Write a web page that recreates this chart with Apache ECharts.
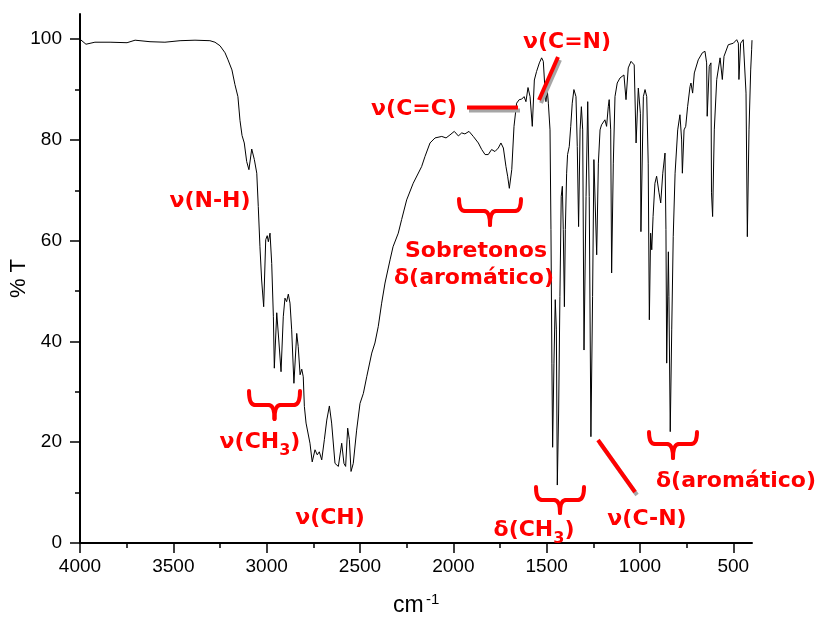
<!DOCTYPE html>
<html><head><meta charset="utf-8">
<script src="https://cdn.jsdelivr.net/npm/echarts@6/dist/echarts.min.js"></script>
<style>html,body{margin:0;padding:0;background:#fff}#c{width:817px;height:620px}</style>
</head><body><div id="c"></div>
<script>
// ---- data ----
const wavenumbers = [4000,3968,3920,3839,3748,3705,3625,3545,3464,3384,3304,3277,3250,3223,3207,3186,3170,3154,3143,3132,
3120,3107,3095,3080,3066,3053,3045,3036,3027,3016,3005,2997,2991,2982,2973,2964,2959,2946,2934,2923,
2911,2902,2893,2884,2875,2866,2854,2839,2831,2821,2812,2804,2798,2789,2780,2768,2756,2741,2729,2718,
2705,2691,2678,2664,2652,2634,2616,2598,2586,2577,2566,2557,2548,2536,2518,2500,2482,2464,2437,2420,
2402,2384,2366,2339,2323,2295,2277,2250,2215,2170,2152,2125,2098,2062,2039,2018,1995,1973,1955,1938,
1916,1893,1866,1848,1830,1813,1795,1777,1759,1745,1732,1718,1709,1700,1687,1675,1661,1647,1634,1621,
1611,1600,1589,1577,1566,1554,1539,1527,1518,1509,1504,1497,1491,1482,1477,1472,1468,1461,1454,1448,
1443,1436,1429,1422,1416,1411,1405,1400,1393,1388,1379,1371,1363,1354,1343,1336,1329,1321,1314,1307,
1300,1289,1280,1272,1263,1254,1247,1232,1223,1214,1206,1197,1188,1179,1170,1165,1157,1152,1143,1134,
1122,1107,1086,1075,1063,1048,1031,1021,1009,998,995,982,973,964,956,950,943,937,930,920,
911,898,889,878,866,861,857,848,845,838,830,822,812,798,786,777,773,764,755,745,
732,727,718,709,688,666,652,643,640,629,620,617,611,602,589,571,563,559,550,527,
500,482,473,470,461,447,438,432,425,416,407,402,400];
const transmittance = [100.0,99.0,99.4,99.4,99.3,99.8,99.5,99.4,99.7,99.8,99.7,99.4,98.7,97.3,95.9,93.9,91.0,88.6,83.9,80.9,
79.4,75.7,74.1,78.2,76.1,73.4,66.8,58.8,52.2,46.9,60.2,61.0,59.8,61.5,55.5,44.9,34.7,45.7,39.7,34.0,
44.9,48.6,47.9,49.4,47.6,42.3,31.7,41.6,39.0,33.4,34.5,33.0,27.1,23.8,24.1,19.8,16.1,18.5,17.5,18.1,
16.5,20.5,24.4,27.2,23.8,15.8,15.2,19.8,15.8,15.2,22.8,20.5,14.2,15.8,22.4,27.7,29.7,33.0,37.7,39.7,
43.0,47.6,51.6,56.2,58.8,61.5,64.2,68.1,71.4,74.7,76.7,79.4,80.4,80.7,80.4,81.0,81.7,80.8,81.4,81.2,
81.7,80.7,79.4,78.1,77.1,77.1,78.1,77.7,78.4,79.4,78.4,74.7,72.8,70.4,74.1,82.7,87.3,88.0,88.1,88.6,
87.6,90.4,88.6,82.7,91.9,93.6,95.3,96.3,95.6,90.0,87.6,90.0,87.3,82.0,62.2,35.7,19.0,35.7,48.3,42.3,
11.5,25.8,48.9,68.8,70.8,62.2,46.9,62.2,73.4,77.1,78.7,82.7,87.3,90.0,88.6,78.7,62.8,82.0,86.6,82.0,
38.3,68.8,87.6,68.8,21.1,48.9,76.1,57.2,75.4,82.0,83.0,82.7,84.0,82.7,86.6,88.0,82.0,53.6,75.4,88.6,
91.3,92.3,92.9,88.0,94.3,95.6,94.9,79.4,90.3,85.3,61.8,88.6,90.0,88.6,75.4,44.3,61.5,58.2,64.8,71.4,
72.8,69.5,67.5,73.4,77.4,62.2,35.7,57.8,48.9,22.1,42.3,60.8,73.4,82.0,85.0,80.0,73.4,82.0,82.7,86.6,
90.6,91.3,89.3,93.3,95.9,97.3,97.6,95.3,84.7,94.6,95.3,69.5,64.8,82.0,92.0,96.3,96.6,92.0,96.6,98.9,
99.2,99.9,99.2,92.0,99.2,99.9,99.6,89.3,60.8,82.0,93.9,97.9,99.8];
const xTickValues = [4000,3500,3000,2500,2000,1500,1000,500];
const xMinorTickValues = [3750,3250,2750,2250,1750,1250,750];
const yTickValues = [0,20,40,60,80,100];
const yMinorTickValues = [10,30,50,70,90];

// ---- chart ----
const n = Math.min(wavenumbers.length, transmittance.length);
const seriesData = [];
for (let i = 0; i < n; i++) seriesData.push([wavenumbers[i], transmittance[i]]);

const RED = '#ff0000';
const AF = 'DejaVu Sans';
const LF = '"Liberation Sans", Arial, sans-serif';
const AFS = 22;

function label(text, x, y) {
  return { type: 'text', x: x, y: y, z: 100,
    style: { text: text, fill: RED, fontSize: AFS, fontWeight: 'bold', fontFamily: AF, align: 'center', verticalAlign: 'middle' } };
}
function labelSub(pre, sub, post, x, y) {
  return { type: 'text', x: x, y: y, z: 100,
    style: { text: `{a|${pre}}{b|${sub}}{a|${post}}`, align: 'center', verticalAlign: 'middle',
      rich: {
        a: { fill: RED, fontSize: AFS, fontWeight: 'bold', fontFamily: AF, lineHeight: 26 },
        b: { fill: RED, fontSize: 16, fontWeight: 'bold', fontFamily: AF, lineHeight: 26, verticalAlign: 'bottom', padding: [0, 0, -4, 0] }
      } } };
}
function bar(x1, y1, x2, y2) {
  return [
    { type: 'line', z: 99, shape: { x1: x1 + 2, y1: y1 + 3, x2: x2 + 2, y2: y2 + 3 }, style: { stroke: '#a6a6a6', lineWidth: 4 } },
    { type: 'line', z: 100, shape: { x1: x1, y1: y1, x2: x2, y2: y2 }, style: { stroke: RED, lineWidth: 4 } }
  ];
}
function brace(x0, x1, y0, y1, y2) {
  const cx = (x0 + x1) / 2, r = 6;
  const st = { stroke: RED, lineWidth: 4, fill: null, lineCap: 'round' };
  const q = (ax, ay, bx, by, cpx, cpy) => ({ type: 'bezierCurve', z: 100, shape: { x1: ax, y1: ay, x2: bx, y2: by, cpx1: cpx, cpy1: cpy }, style: st });
  const l = (ax, ay, bx, by) => ({ type: 'line', z: 100, shape: { x1: ax, y1: ay, x2: bx, y2: by }, style: st });
  return [
    q(x0, y0, x0 + r, y1, x0, y1),
    l(x0 + r, y1, cx - r, y1),
    q(cx - r, y1, cx, y2, cx, y1),
    q(cx + r, y1, cx, y2, cx, y1),
    l(cx + r, y1, x1 - r, y1),
    q(x1 - r, y1, x1, y0, x1, y1)
  ];
}

const graphics = [
  label('ν(N-H)', 210, 201),
  labelSub('ν(CH', '3', ')', 260, 442),
  ...brace(249, 300, 391, 405, 419),
  label('ν(CH)', 330, 518),
  label('ν(C=C)', 414, 109),
  ...bar(467, 107.5, 518, 107.5),
  label('ν(C=N)', 567, 42),
  ...bar(558, 57, 539, 100),
  label('Sobretonos', 476, 251),
  label('δ(aromático)', 474, 278),
  ...brace(459, 521, 199, 211, 225),
  labelSub('δ(CH', '3', ')', 534, 530),
  ...brace(536, 584, 487, 500, 513),
  ...bar(598, 440, 635, 492),
  label('ν(C-N)', 647, 519),
  ...brace(649, 697, 432, 444, 458),
  label('δ(aromático)', 736, 481),
  { type: 'text', x: 393, y: 606, style: { text: 'cm', fill: '#000', fontSize: 23, fontFamily: LF, align: 'left', verticalAlign: 'middle' } },
  { type: 'text', x: 426, y: 600, style: { text: '-1', fill: '#000', fontSize: 15, fontFamily: LF, align: 'left', verticalAlign: 'middle' } }
];

const chart = echarts.init(document.getElementById('c'), null, { renderer: 'canvas' });
const axisCommon = {
  axisLine: { show: true, onZero: false, lineStyle: { color: '#000', width: 2 } },
  splitLine: { show: false }
};
const plain = v => String(v);
chart.setOption({
  animation: false,
  backgroundColor: '#fff',
  grid: { left: 80, right: 65, top: 14, bottom: 77, containLabel: false, outerBoundsMode: 'none' },
  xAxis: [
    Object.assign({}, axisCommon, {
      type: 'value', inverse: true, min: 400, max: 4000, position: 'bottom',
      axisTick: { show: true, inside: false, length: 10, customValues: xTickValues, lineStyle: { color: '#000', width: 1.5 } },
      axisLabel: { show: true, customValues: xTickValues, formatter: plain, margin: 14, color: '#000', fontSize: 19, fontFamily: LF }
    }),
    {
      type: 'value', inverse: true, min: 400, max: 4000, position: 'bottom',
      axisLine: { show: false }, splitLine: { show: false }, axisLabel: { show: false },
      axisTick: { show: true, length: 5, customValues: xMinorTickValues, lineStyle: { color: '#000', width: 1.5 } }
    }
  ],
  yAxis: [
    Object.assign({}, axisCommon, {
      type: 'value', min: 0, max: 105, position: 'left',
      name: '% T', nameLocation: 'middle', nameGap: 50, nameRotate: 90, nameMoveOverlap: false,
      nameTextStyle: { color: '#000', fontSize: 22, fontFamily: LF },
      axisTick: { show: true, length: 10, customValues: yTickValues, lineStyle: { color: '#000', width: 1.5 } },
      axisLabel: { show: true, customValues: yTickValues, formatter: plain, margin: 18, color: '#000', fontSize: 19, fontFamily: LF }
    }),
    {
      type: 'value', min: 0, max: 105, position: 'left',
      axisLine: { show: false }, splitLine: { show: false }, axisLabel: { show: false },
      axisTick: { show: true, length: 5, customValues: yMinorTickValues, lineStyle: { color: '#000', width: 1.5 } }
    }
  ],
  series: [{
    type: 'line', xAxisIndex: 0, yAxisIndex: 0, data: seriesData,
    showSymbol: false, symbol: 'none', smooth: false,
    lineStyle: { color: '#000', width: 1 }, clip: true
  }],
  graphic: graphics
});
</script>
</body></html>
